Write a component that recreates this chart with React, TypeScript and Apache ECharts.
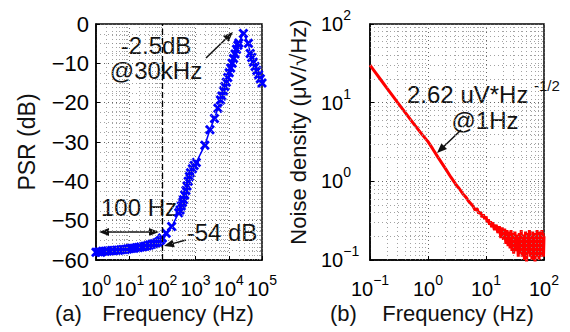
import React, { useEffect, useRef } from 'react';
import * as echarts from 'echarts';

// ---- Data ----
// (a) PSR vs frequency
const psrFreq = [
  1.0, 1.2, 1.4, 1.6, 1.9, 2.2, 2.6, 3.0, 3.5, 4.1, 4.8, 5.6, 6.5, 7.6, 8.9,
  10.4, 12, 14, 16.5, 19, 22, 26, 30, 35, 41, 48, 56, 65, 76, 88, 100,
  130, 190,
  310, 340, 370, 400, 430, 470, 510, 550, 600, 650, 700, 800, 900, 1050,
  1900, 2700, 3700, 4700, 5600,
  6200, 6900, 7600, 8400, 9300, 10300, 11400, 12600, 13900, 15400, 17000, 18800, 20000,
  27500,
  39000, 44000, 49000, 55000, 62000, 70000, 79000, 89000, 100000,
];
const psrDb = [
  -58.0, -57.9, -58.0, -57.8, -57.8, -57.7, -57.7, -57.6, -57.6, -57.5, -57.5, -57.4, -57.3, -57.3, -57.2,
  -57.1, -57.0, -57.0, -56.9, -56.8, -56.7, -56.6, -56.5, -56.4, -56.2, -56.0, -55.9, -55.7, -55.4, -55.0, -54.4,
  -53.2, -51.5,
  -48.0, -47.3, -46.3, -45.4, -44.7, -43.5, -42.3, -41.2, -40.0, -38.8, -37.8, -36.8, -36.0, -35.2,
  -30.8, -26.9, -24.0, -21.4, -19.3,
  -18.3, -17.0, -15.9, -14.8, -13.6, -12.4, -11.2, -10.0, -8.8, -7.6, -6.4, -5.4, -4.8,
  -2.4,
  -4.9, -7.5, -8.5, -9.7, -10.8, -11.8, -12.9, -13.9, -15.0,
];

// (b) Noise density vs frequency
const noiseFreq = [
  0.1, 0.12, 0.15, 0.2, 0.25, 0.3, 0.4, 0.5, 0.6, 0.8, 1.0, 1.2, 1.5, 2.0, 2.5, 3.0, 3.5, 4.0, 4.5, 5.0,
  5.5, 6, 6.5, 7, 7.5, 8, 8.5, 9, 9.5, 10, 10.5, 11, 11.5, 12, 12.5, 13, 14, 15, 16, 17, 18, 19, 20,
  21, 22, 23, 24, 25, 26, 27, 28, 29, 30, 31.5, 33, 34.5, 36, 37.5, 39, 40.5, 42, 44, 46, 48, 50,
  52, 54, 56, 58, 60, 62, 64, 66, 68, 70, 72, 74, 76, 78, 80, 82, 84, 86, 88, 90, 92, 94, 96, 98, 100,
];
const noiseVal = [
  30, 25, 20, 15, 12, 10, 7.6, 6.1, 5.1, 3.9, 3.2, 2.6, 2.0, 1.45, 1.12, 0.92, 0.8, 0.69, 0.63, 0.56,
  0.52, 0.48, 0.43, 0.45, 0.39, 0.41, 0.35, 0.38, 0.33, 0.36, 0.3, 0.33, 0.28, 0.31, 0.26, 0.3, 0.24, 0.28, 0.22, 0.27, 0.19, 0.26, 0.18,
  0.25, 0.16, 0.24, 0.15, 0.23, 0.14, 0.24, 0.13, 0.22, 0.12, 0.23, 0.13, 0.21, 0.11, 0.22, 0.12, 0.24, 0.11, 0.21, 0.1, 0.23, 0.09,
  0.22, 0.12, 0.24, 0.11, 0.2, 0.1, 0.23, 0.12, 0.21, 0.09, 0.22, 0.11, 0.24, 0.12, 0.2, 0.1, 0.23, 0.12, 0.21, 0.11, 0.24, 0.12, 0.22, 0.11, 0.2,
];

const leftDecades = [1, 10, 100, 1000, 10000];
const rightDecades = [0.1, 1, 10];
const logMinorMultipliers = [2, 3, 4, 5, 6, 7, 8, 9];
const markerFreq = 100; // dashed reference line (Hz)

const FONT = '"Liberation Sans", Arial, Helvetica, sans-serif';
const TXT = '#111';

const minorOf = (decades: number[]) =>
  decades.flatMap((d) => logMinorMultipliers.map((m) => +(d * m).toPrecision(4)));

const supLabel = (v: number) => {
  const e = Math.round(Math.log10(v));
  return `{b|10}{s|${e < 0 ? '\u2212' + -e : e}}`;
};

const richSup = {
  b: { fontSize: 20, fontFamily: FONT, color: '#000', lineHeight: 32 },
  s: { fontSize: 14, fontFamily: FONT, color: '#000', lineHeight: 12, verticalAlign: 'top' },
};

const gridMajor = { type: [1, 3] as any, color: '#666', width: 1 };
const gridMinor = { type: [1, 3] as any, color: '#8a8a8a', width: 0.8 };

function arrow(x1: number, y1: number, x2: number, y2: number, both = false) {
  const a = Math.atan2(y2 - y1, x2 - x1);
  const L = 10, W = 4;
  const head = (xt: number, yt: number, ang: number) => {
    const bx = xt - L * Math.cos(ang);
    const by = yt - L * Math.sin(ang);
    return [
      [xt, yt],
      [bx + W * Math.sin(ang), by - W * Math.cos(ang)],
      [bx - W * Math.sin(ang), by + W * Math.cos(ang)],
    ];
  };
  const sx = both ? x1 + (L - 2) * Math.cos(a) : x1;
  const sy = both ? y1 + (L - 2) * Math.sin(a) : y1;
  const ex = x2 - (L - 2) * Math.cos(a);
  const ey = y2 - (L - 2) * Math.sin(a);
  const els: any[] = [
    { type: 'line', shape: { x1: sx, y1: sy, x2: ex, y2: ey }, style: { stroke: TXT, lineWidth: 1.5 } },
    { type: 'polygon', shape: { points: head(x2, y2, a) }, style: { fill: TXT } },
  ];
  if (both) els.push({ type: 'polygon', shape: { points: head(x1, y1, a + Math.PI) }, style: { fill: TXT } });
  return { type: 'group', children: els };
}

function txt(text: string, x: number, y: number, size: number, align = 'center', rotation = 0) {
  return {
    type: 'text',
    x,
    y,
    rotation,
    style: {
      text,
      fontSize: size,
      fontFamily: FONT,
      fill: TXT,
      textAlign: align,
      align,
      textVerticalAlign: 'middle',
      verticalAlign: 'middle',
    },
  };
}

export default function App() {
  const ref = useRef<HTMLDivElement>(null);
  useEffect(() => {
    const chart = echarts.init(ref.current!, null, { renderer: 'svg' });
    const axisLine = { show: true, onZero: false, lineStyle: { color: '#000', width: 1.5 } };
    const axisTick = { show: true, inside: true, length: 4, lineStyle: { color: '#000', width: 1 } };
    const markBase = { silent: true, symbol: ['none', 'none'], label: { show: false }, animation: false };

    const option: any = {
      animation: false,
      backgroundColor: '#fff',
      grid: [
        { left: 96, top: 24, width: 166, height: 236, show: true, borderColor: '#000', borderWidth: 1.5, backgroundColor: '#fff' },
        { left: 370, top: 24, width: 174, height: 236, show: true, borderColor: '#000', borderWidth: 1.5, backgroundColor: '#fff' },
      ],
      xAxis: [
        {
          gridIndex: 0, type: 'log', logBase: 10, min: 1, max: 100000,
          axisLine, axisTick,
          axisLabel: { formatter: supLabel, rich: richSup, margin: 13 },
          splitLine: { show: true, lineStyle: gridMajor },
        },
        {
          gridIndex: 1, type: 'log', logBase: 10, min: 0.1, max: 100,
          axisLine, axisTick,
          axisLabel: { formatter: supLabel, rich: richSup, margin: 13 },
          splitLine: { show: true, lineStyle: gridMajor },
        },
      ],
      yAxis: [
        {
          gridIndex: 0, type: 'value', min: -60, max: 0, interval: 10,
          axisLine, axisTick,
          axisLabel: {
            formatter: (v: number) => (v < 0 ? '\u2212' + -v : String(v)),
            fontSize: 22, fontFamily: FONT, color: '#000', margin: 7,
          },
          splitLine: { show: true, lineStyle: gridMajor },
          minorTick: { show: false, splitNumber: 4 },
          minorSplitLine: { show: true, lineStyle: gridMinor },
        },
        {
          gridIndex: 1, type: 'log', logBase: 10, min: 0.1, max: 100,
          axisLine, axisTick,
          axisLabel: { formatter: supLabel, rich: richSup, margin: 49, align: 'left' },
          splitLine: { show: true, lineStyle: gridMajor },
        },
      ],
      series: [
        {
          type: 'line', xAxisIndex: 0, yAxisIndex: 0, data: [], z: 1,
          markLine: {
            ...markBase,
            data: [
              ...minorOf(leftDecades).map((v) => ({ xAxis: v, lineStyle: gridMinor })),
              { xAxis: markerFreq, lineStyle: { type: [6, 3], color: '#000', width: 1.3 } },
            ],
          },
        },
        {
          type: 'line', xAxisIndex: 1, yAxisIndex: 1, data: [], z: 1,
          markLine: {
            ...markBase,
            data: [
              ...minorOf(rightDecades).map((v) => ({ xAxis: v, lineStyle: gridMinor })),
              ...minorOf(rightDecades).map((v) => ({ yAxis: v, lineStyle: gridMinor })),
            ],
          },
        },
        {
          name: 'PSR', type: 'line', xAxisIndex: 0, yAxisIndex: 0, z: 3,
          data: psrFreq.map((f, i) => [f, psrDb[i]]),
          symbol: 'path://M0,2L2,0L5,3L8,0L10,2L7,5L10,8L8,10L5,7L2,10L0,8L3,5Z',
          symbolSize: 10,
          lineStyle: { color: '#0000ff', width: 1.5 },
          itemStyle: { color: '#0000ff' },
        },
        {
          name: 'Noise', type: 'line', xAxisIndex: 1, yAxisIndex: 1, z: 3,
          data: noiseFreq.map((f, i) => [f, noiseVal[i]]),
          showSymbol: false, symbol: 'none',
          lineStyle: { color: '#ff0000', width: 3 },
        },
      ],
      graphic: [
        txt('PSR (dB)', 27, 142, 23, 'center', Math.PI / 2),
        txt('(a)', 55, 313, 22, 'left'),
        txt('Frequency (Hz)', 178, 313, 22),
        txt('Noise density (\u03bcV/\u221aHz)', 298, 132, 22, 'center', Math.PI / 2),
        txt('(b)', 330, 313, 22, 'left'),
        txt('Frequency (Hz)', 458, 313, 22),
        txt('-2.5dB', 156, 45, 24),
        txt('@30kHz', 156, 70, 24),
        txt('100 Hz', 139, 207, 24),
        txt('-54 dB', 222, 232, 24),
        txt('2.62 uV*Hz', 407, 94, 24, 'left'),
        txt('-1/2', 534, 85, 15, 'left'),
        txt('@1Hz', 485, 120, 24),
        arrow(206, 58, 233, 32),
        arrow(186, 240, 164, 246),
        arrow(461, 130, 437, 153),
        arrow(99, 232, 159, 232, true),
      ],
    };
    chart.setOption(option);
    return () => chart.dispose();
  }, []);
  return <div ref={ref} style={{ position: 'absolute', left: 0, top: 0, width: 570, height: 332 }} />;
}
